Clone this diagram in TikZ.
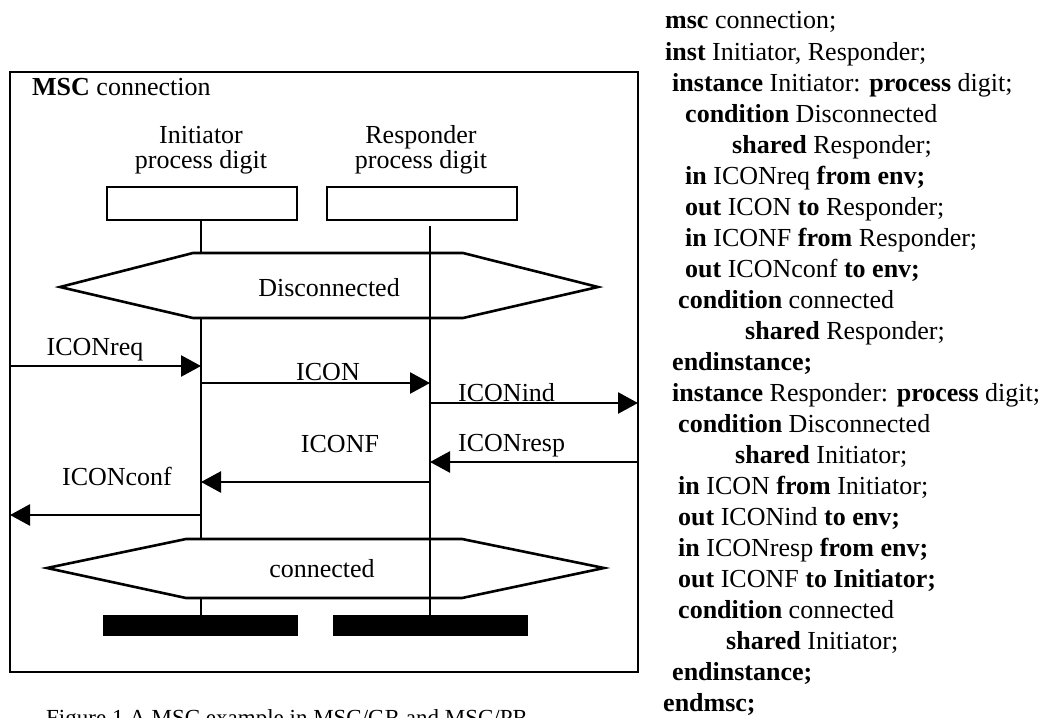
\documentclass[tikz,border=0pt]{standalone}
\usepackage{fontspec}
\setmainfont{Liberation Serif}
\usetikzlibrary{arrows.meta}
\newcommand\txt{\fontsize{26}{30}\selectfont}
\begin{document}
\begin{tikzpicture}[x=1pt,y=-1pt,
  frame/.style={draw,line width=2pt},
  instbox/.style={draw,line width=2pt,minimum width=190pt,minimum height=33pt,inner sep=0pt},
  endbar/.style={fill=black,minimum width=195pt,minimum height=21pt,inner sep=0pt},
  lifeline/.style={line width=1.8pt},
  cond/.style={line width=2.6pt,line join=miter},
  msg/.style={line width=2.6pt,-{Triangle[length=20pt,width=21pt]}},
  lab/.style={font=\txt,inner sep=0pt,anchor=base},
  code/.style={font=\txt,inner sep=0pt,anchor=base west}]
\clip (0,0) rectangle (1059,717);

% MSC frame and title
\draw[frame] (10,72) rectangle (638,672);
\node[lab,anchor=base west] (title) at (32,95) {\textbf{MSC} connection};

% instance heads
\node[lab] (ilab1) at (201,143) {Initiator};
\node[lab] (ilab2) at (201,168) {process digit};
\node[lab] (rlab1) at (421,143) {Responder};
\node[lab] (rlab2) at (421,168) {process digit};
\node[instbox] (ibox) at (202,203.5) {};
\node[instbox] (rbox) at (422,203.5) {};

% instance ends
\node[endbar] (iend) at (200.5,625.5) {};
\node[endbar] (rend) at (430,625.5) {};

% lifeline points
\coordinate (i0) at (201,220);
\coordinate (i1) at (201,253);
\coordinate (i2) at (201,318);
\coordinate (i3) at (201,539);
\coordinate (i4) at (201,598);
\coordinate (r0) at (430,226);

% conditions
\draw[cond] (60,287) coordinate (dw) -- (193,253) -- (463,253) -- (598,287) coordinate (de)
  -- (463,318) -- (193,318) -- cycle;
\node[lab] (dtext) at (329,296) {Disconnected};
\draw[cond] (47,568) coordinate (cw) -- (186,539) -- (462,539) -- (604,568) coordinate (ce)
  -- (462,598) -- (186,598) -- cycle;
\node[lab] (ctext) at (322,577) {connected};

% lifelines
\draw[lifeline] (i0) -- (i1);
\draw[lifeline] (i2) -- (i3);
\draw[lifeline] (i4) -- (iend.north -| i4);
\draw[lifeline] (r0) -- (rend.north -| r0);

% message end points
\coordinate (reqA) at (10,366);   \coordinate (reqB) at (201,366);
\coordinate (conA) at (201,383);  \coordinate (conB) at (430,383);
\coordinate (indA) at (430,403);  \coordinate (indB) at (638,403);
\coordinate (rspA) at (638,462);  \coordinate (rspB) at (430,462);
\coordinate (cfA)  at (430,482);  \coordinate (cfB)  at (201,482);
\coordinate (cnfA) at (201,515);  \coordinate (cnfB) at (10,515);

% messages
\draw[msg] (reqA) -- (reqB);
\draw[msg] (conA) -- (conB);
\draw[msg] (indA) -- (indB);
\draw[msg] (rspA) -- (rspB);
\draw[msg] (cfA) -- (cfB);
\draw[msg] (cnfA) -- (cnfB);

\node[lab] (mreq) at (95,355) {ICONreq};
\node[lab] (mcon) at (328,380) {ICON};
\node[lab,anchor=base west] (mind) at (458,401) {ICONind};
\node[lab,anchor=base west] (mrsp) at (458,451) {ICONresp};
\node[lab] (mcf) at (340,452) {ICONF};
\node[lab] (mcnf) at (117,485) {ICONconf};

% caption
\node[lab,anchor=base west,font=\fontsize{23}{26}\selectfont] (cap) at (46,725)
  {Figure 1 A MSC example in MSC/GR and MSC/PR};

% textual form
\node[code] (l1)  at (665,29)  {\textbf{msc} connection;};
\node[code] (l2)  at (665,60)  {\textbf{inst} Initiator, Responder;};
\node[code] (l3)  at (672,91)  {\textbf{instance} Initiator: \textbf{process} digit;};
\node[code] (l4)  at (685,122) {\textbf{condition} Disconnected};
\node[code] (l5)  at (732,153) {\textbf{shared} Responder;};
\node[code] (l6)  at (685,184) {\textbf{in} ICONreq \textbf{from env;}};
\node[code] (l7)  at (685,215) {\textbf{out} ICON \textbf{to} Responder;};
\node[code] (l8)  at (685,246) {\textbf{in} ICONF \textbf{from} Responder;};
\node[code] (l9)  at (685,277) {\textbf{out} ICONconf \textbf{to env;}};
\node[code] (l10) at (678,308) {\textbf{condition} connected};
\node[code] (l11) at (745,339) {\textbf{shared} Responder;};
\node[code] (l12) at (672,370) {\textbf{endinstance;}};
\node[code] (l13) at (672,401) {\textbf{instance} Responder: \textbf{process} digit;};
\node[code] (l14) at (678,432) {\textbf{condition} Disconnected};
\node[code] (l15) at (735,463) {\textbf{shared} Initiator;};
\node[code] (l16) at (678,494) {\textbf{in} ICON \textbf{from} Initiator;};
\node[code] (l17) at (678,525) {\textbf{out} ICONind \textbf{to env;}};
\node[code] (l18) at (678,556) {\textbf{in} ICONresp \textbf{from env;}};
\node[code] (l19) at (678,587) {\textbf{out} ICONF \textbf{to Initiator;}};
\node[code] (l20) at (678,618) {\textbf{condition} connected};
\node[code] (l21) at (726,649) {\textbf{shared} Initiator;};
\node[code] (l22) at (672,680) {\textbf{endinstance;}};
\node[code] (l23) at (663,711) {\textbf{endmsc;}};
\end{tikzpicture}
\end{document}
